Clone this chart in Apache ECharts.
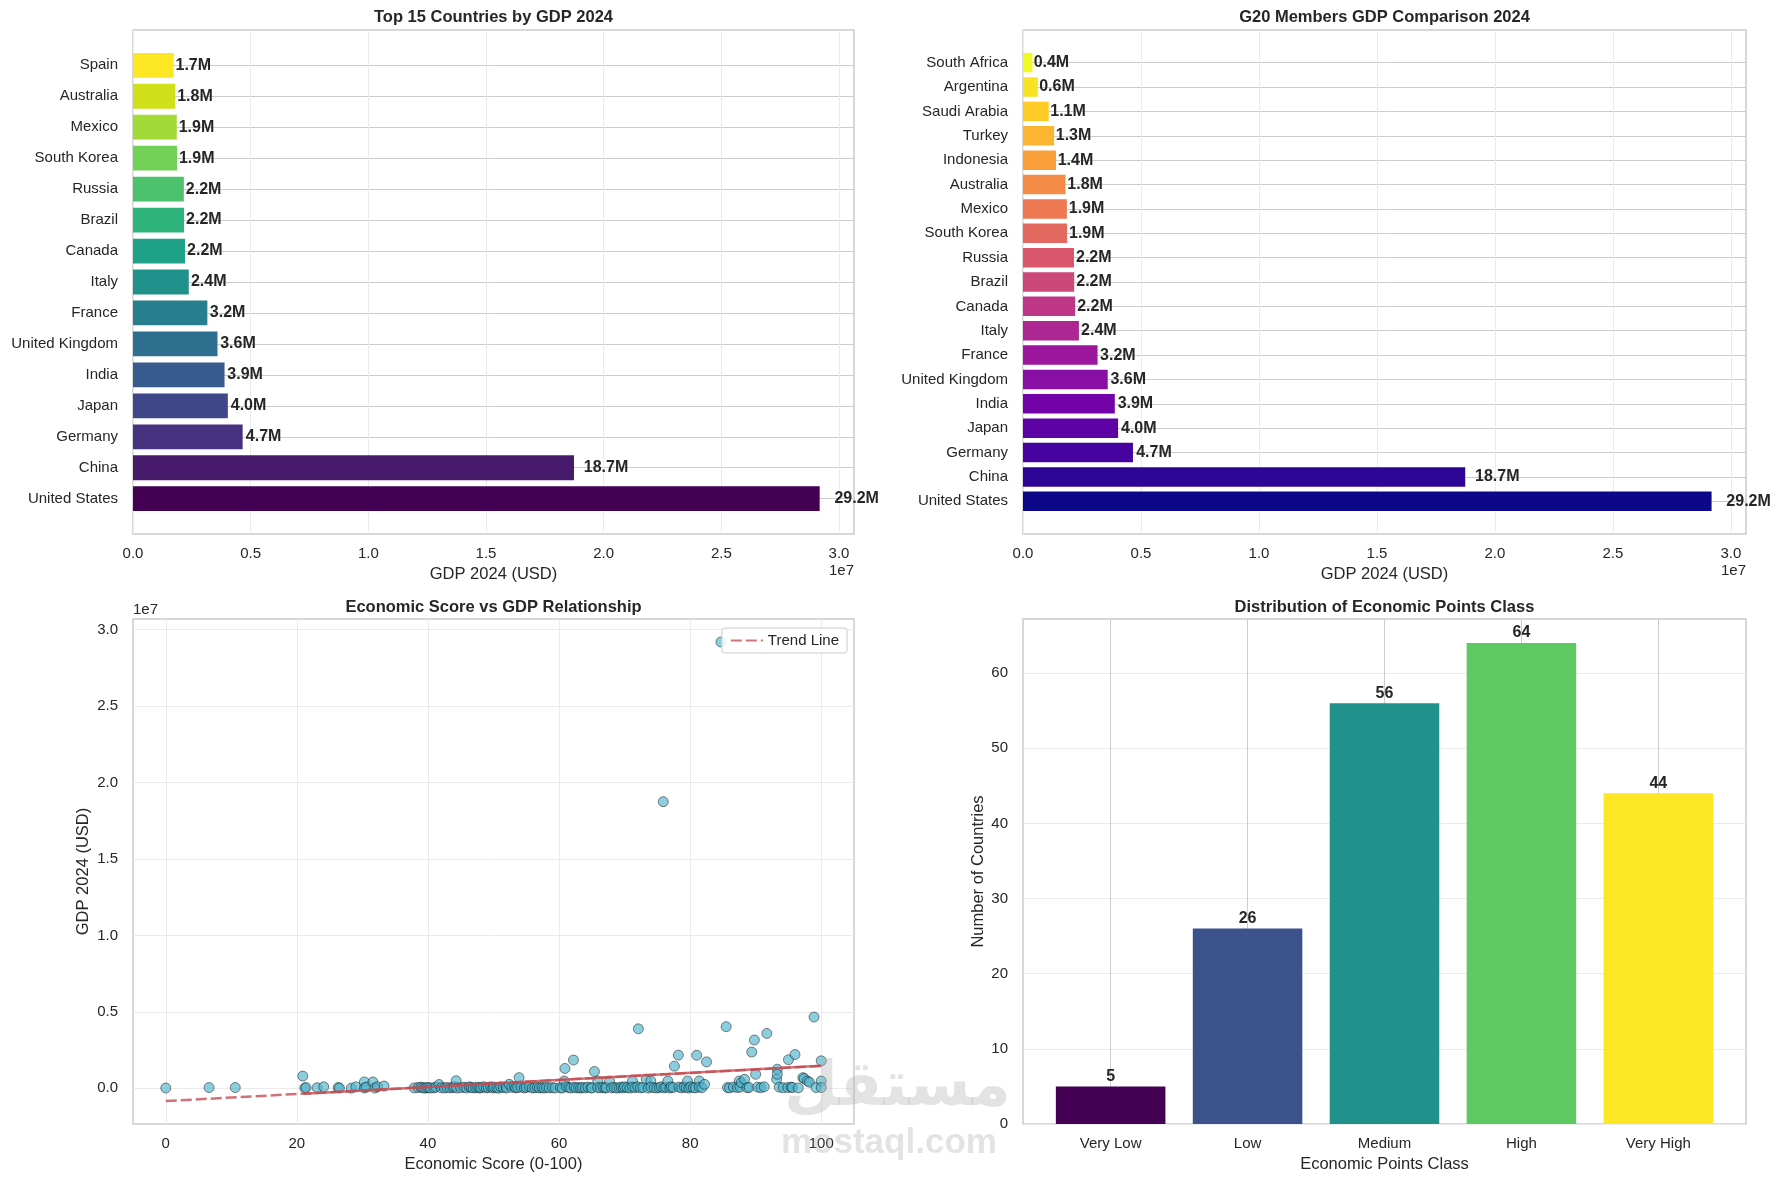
<!DOCTYPE html>
<html>
<head>
<meta charset="utf-8">
<script src="https://cdn.jsdelivr.net/npm/echarts@6/dist/echarts.min.js"></script>
<style>
  html, body { margin: 0; padding: 0; background: #fff; }
  #main { width: 1781px; height: 1183px; }
</style>
</head>
<body>
<div id="main"></div>
<script>
// ---- data (bottom -> top for the horizontal bars) ----
var topCountries = ['United States', 'China', 'Germany', 'Japan', 'India', 'United Kingdom', 'France', 'Italy',
    'Canada', 'Brazil', 'Russia', 'South Korea', 'Mexico', 'Australia', 'Spain'];
var topGdp = [29.18, 18.74, 4.66, 4.03, 3.89, 3.59, 3.16, 2.37, 2.21, 2.17, 2.16, 1.87, 1.86, 1.80, 1.73];

var g20Countries = ['United States', 'China', 'Germany', 'Japan', 'India', 'United Kingdom', 'France', 'Italy',
    'Canada', 'Brazil', 'Russia', 'South Korea', 'Mexico', 'Australia', 'Indonesia', 'Turkey', 'Saudi Arabia',
    'Argentina', 'South Africa'];
var g20Gdp = [29.18, 18.74, 4.66, 4.03, 3.89, 3.59, 3.16, 2.37, 2.21, 2.17, 2.16, 1.87, 1.86, 1.80, 1.40, 1.32,
    1.09, 0.63, 0.40];

var pointClasses = ['Very Low', 'Low', 'Medium', 'High', 'Very High'];
var classCounts = [5, 26, 56, 64, 44];

// [economic score, GDP in millions (M)]
var scorePoints = [
    [0, 0.02], [6.6, 0.05], [10.6, 0.05],
    [20.9, 0.8], [21.2, 0.02], [21.4, 0.05], [23.1, 0.04], [24.1, 0.1], [26.3, 0.05], [26.5, 0.02],
    [28.3, 0.01], [29.0, 0.1], [30.3, 0.42], [30.3, 0.03], [30.6, 0.08], [31.6, 0.42], [31.9, 0.02],
    [32.3, 0.1], [33.3, 0.15], [37.9, 0.03], [38.5, 0.05], [38.9, 0.08], [39.2, 0.04], [39.5, 0.01], [39.8, 0.06],
    [40.1, 0.05], [40.4, 0.02], [40.9, 0.03], [41.2, 0.08], [41.7, 0.25], [42.0, 0.04], [42.5, 0.02],
    [42.9, 0.06], [43.4, 0.03], [43.8, 0.05], [44.0, 0.1], [44.3, 0.5], [44.4, 0.02], [45.0, 0.04],
    [45.5, 0.08], [45.9, 0.02], [46.3, 0.1], [46.6, 0.06], [46.9, 0.03], [47.3, 0.04], [47.6, 0.07],
    [47.9, 0.02], [48.1, 0.05], [48.5, 0.1], [48.9, 0.03], [49.2, 0.06], [49.6, 0.1], [49.9, 0.02],
    [50.1, 0.08], [50.5, 0.04], [50.8, 0.01], [51.1, 0.1], [51.5, 0.05], [51.9, 0.09], [52.0, 0.02],
    [52.4, 0.26], [52.8, 0.06], [53.2, 0.1], [53.4, 0.03], [53.7, 0.05], [53.9, 0.7], [54.2, 0.08],
    [54.7, 0.03], [55.0, 0.06], [55.5, 0.1], [55.9, 0.02], [56.3, 0.04], [56.7, 0.07], [57.0, 0.03],
    [57.4, 0.05], [57.7, 0.02], [58.1, 0.06], [58.5, 0.03], [59.0, 0.05], [59.4, 0.02],
    [60.2, 0.04], [60.5, 0.02], [60.8, 0.48], [60.9, 1.3], [61.1, 0.1], [61.5, 0.05], [61.8, 0.02],
    [62.2, 1.85], [62.3, 0.08], [62.6, 0.03], [63.0, 0.05], [63.3, 0.02], [63.6, 0.06], [64.0, 0.03],
    [64.4, 0.08], [64.9, 0.04], [65.0, 0.02], [65.4, 1.1], [65.9, 0.48], [65.9, 0.05], [66.3, 0.03],
    [66.7, 0.07], [67.0, 0.02], [67.2, 0.05], [67.7, 0.48], [68.0, 0.03], [68.4, 0.06], [68.8, 0.02],
    [69.2, 0.04], [69.5, 0.08], [69.8, 0.03], [70.0, 0.1], [70.4, 0.05], [70.8, 0.02], [71.2, 0.48],
    [71.2, 0.08], [71.6, 0.04], [72.0, 0.1], [72.1, 3.89], [72.4, 0.03], [72.8, 0.06], [73.3, 0.6],
    [73.6, 0.02], [74.0, 0.48], [74.0, 0.08], [74.5, 0.04], [74.9, 0.02], [75.3, 0.05], [75.6, 0.1],
    [75.9, 18.74], [76.0, 0.03], [76.3, 0.08], [76.6, 0.48], [76.9, 0.02], [77.1, 0.1], [77.4, 0.05],
    [77.6, 1.45], [78.2, 2.17], [78.3, 0.08], [78.7, 0.03], [79.1, 0.1], [79.4, 0.05], [79.6, 0.48], [79.8, 0.02],
    [80.1, 0.1], [80.5, 0.05], [80.8, 0.03], [81.0, 2.16], [81.4, 0.48], [81.4, 0.08], [81.8, 0.04],
    [82.2, 0.26], [82.5, 1.73], [84.7, 29.18], [85.5, 4.03], [85.7, 0.05], [86.0, 0.03], [86.6, 0.08],
    [87.2, 0.05], [87.5, 0.48], [87.6, 0.08], [87.8, 0.37], [88.3, 0.59], [88.7, 0.04], [89.0, 0.06],
    [89.4, 2.37], [89.8, 3.16], [90.0, 0.92], [90.3, 0.08], [90.8, 0.04], [91.3, 0.1], [91.7, 3.59],
    [93.2, 0.59], [93.3, 1.25], [93.3, 0.92], [93.6, 0.08], [94.2, 0.04], [94.9, 0.05], [95.0, 1.87],
    [95.4, 0.08], [95.6, 0.05], [96.0, 2.21], [96.5, 0.03], [97.2, 0.7], [97.4, 0.64], [97.9, 0.48],
    [98.2, 0.4], [98.9, 4.66], [99.2, 0.05], [100, 1.8], [100, 0.48], [100, 0.05]
];

// fitted trend line (GDP M = intercept + slope * score)
var trendIntercept = -0.83;
var trendSlope = 0.023;
var trendFrom = 0, trendTo = 100, trendDenseFrom = 21;

// ---- styles ----
var viridis15 = ['#440154', '#481a6c', '#46327e', '#3f4788', '#375b8d', '#2e6e8e', '#277f8e', '#21918c',
    '#1fa187', '#2eb37c', '#4cc26c', '#73d056', '#a2da37', '#d0e11c', '#fde725'];
var plasma19 = ['#0d0887', '#2c0594', '#46039f', '#5c02a4', '#7201a8', '#870fa3', '#9c179e', '#ad2792',
    '#bd3786', '#cb4778', '#d8576b', '#e3685f', '#ed7953', '#f48c47', '#fb9f3a', '#fcb530', '#fdca26',
    '#f7e224', '#f0f921'];
var viridis5 = ['#440154', '#3b528b', '#21918c', '#5ec962', '#fde725'];

var font = "'Liberation Sans', Arial, sans-serif";
var ink = '#262626';
var lightGrid = '#ebebeb', catGrid = '#cccccc', spine = '#cccccc';

var frames = {
    tl: {left: 133, top: 30, width: 721, height: 504},
    tr: {left: 1023, top: 30, width: 723, height: 504},
    bl: {left: 133, top: 619, width: 721, height: 505},
    br: {left: 1023, top: 619, width: 723, height: 505}
};

function range(a, b, step) { var r = []; for (var v = a; v <= b + 1e-9; v += step) r.push(v); return r; }
function catPad(n) { return 0.4 + 0.05 * (n - 0.2); }

function frameGrid(f) {
    return {left: f.left, top: f.top, width: f.width, height: f.height, show: true,
        borderColor: spine, borderWidth: 1.5, backgroundColor: 'transparent', outerBoundsMode: 'none'};
}
// inner grid that holds the bands of a category axis, with matplotlib's margins
function bandGridY(f, n) {
    var pad = catPad(n), px = f.height / (n - 1 + 2 * pad);
    return {left: f.left, width: f.width, top: f.top + (pad - 0.5) * px, height: n * px, show: false, outerBoundsMode: 'none'};
}
function bandGridX(f, n) {
    var pad = catPad(n), px = f.width / (n - 1 + 2 * pad);
    return {top: f.top, height: f.height, left: f.left + (pad - 0.5) * px, width: n * px, show: false, outerBoundsMode: 'none'};
}

var tickText = {color: ink, fontSize: 15, fontFamily: font};
var nameText = {color: ink, fontSize: 16.5, fontFamily: font};

function gdpX(gridIndex, xmax, showIt) {
    if (!showIt) return {gridIndex: gridIndex, type: 'value', min: 0, max: xmax, show: false};
    var ticks = range(0, 30, 5);
    return {
        gridIndex: gridIndex, type: 'value', min: 0, max: xmax,
        axisLine: {show: false}, axisTick: {show: false, customValues: ticks},
        axisLabel: Object.assign({customValues: ticks, margin: 12, formatter: function (v) { return (v / 10).toFixed(1); }}, tickText),
        splitLine: {show: true, lineStyle: {color: lightGrid, width: 1}},
        name: 'GDP 2024 (USD)', nameLocation: 'middle', nameGap: 32, nameTextStyle: nameText
    };
}
function countryY(gridIndex, names) {
    var pad = catPad(names.length), ticks = range(0, names.length - 1, 1);
    return {
        gridIndex: gridIndex, type: 'value', min: -pad, max: names.length - 1 + pad,
        axisLine: {show: false}, axisTick: {show: false, customValues: ticks},
        axisLabel: Object.assign({customValues: ticks, margin: 15, formatter: function (v) { return names[Math.round(v)]; }}, tickText),
        splitLine: {show: true, lineStyle: {color: catGrid, width: 1}}
    };
}
function hbarSeries(idx, values, colors, f, xmax) {
    var pxPerUnit = f.width / xmax;
    return {
        type: 'bar', xAxisIndex: idx, yAxisIndex: idx, barWidth: '80%',
        data: values.map(function (v, i) {
            return {value: v, itemStyle: {color: colors[i]}, label: {distance: 1 + v * 0.02 * pxPerUnit}};
        }),
        label: {show: true, position: 'right', color: ink, fontSize: 16, fontWeight: 'bold', fontFamily: font,
            formatter: function (p) { return p.value.toFixed(1) + 'M'; }},
        emphasis: {disabled: true}
    };
}

var xMaxTop = Math.max.apply(null, topGdp) * 1.05;
var xMaxG20 = Math.max.apply(null, g20Gdp) * 1.05;

var trendLo = trendIntercept + trendSlope * trendFrom;
var gdpMax = Math.max.apply(null, scorePoints.map(function (p) { return p[1]; }));
var sMargin = (gdpMax - trendLo) * 0.05;
var countMax = Math.max.apply(null, classCounts) * 1.05;
var brPad = catPad(pointClasses.length);

var chart = echarts.init(document.getElementById('main'));
chart.setOption({
    animation: false,
    backgroundColor: '#fff',
    textStyle: {fontFamily: font},
    title: [
        {text: 'Top 15 Countries by GDP 2024', left: frames.tl.left + frames.tl.width / 2, top: 9, textAlign: 'center'},
        {text: 'G20 Members GDP Comparison 2024', left: frames.tr.left + frames.tr.width / 2, top: 9, textAlign: 'center'},
        {text: 'Economic Score vs GDP Relationship', left: frames.bl.left + frames.bl.width / 2, top: 599, textAlign: 'center'},
        {text: 'Distribution of Economic Points Class', left: frames.br.left + frames.br.width / 2, top: 599, textAlign: 'center'}
    ].map(function (t) {
        t.padding = 0;
        t.textStyle = {color: ink, fontSize: 16.5, fontWeight: 'bold', fontFamily: font};
        return t;
    }),
    legend: {
        data: [{name: 'Trend Line', itemStyle: {opacity: 0}}], right: 1781 - 847, top: 628, padding: [5, 8],
        itemWidth: 32, itemHeight: 12, itemGap: 8,
        backgroundColor: 'rgba(255,255,255,0.85)', borderColor: '#cccccc', borderWidth: 1, borderRadius: 3,
        textStyle: {color: ink, fontSize: 15, fontFamily: font}
    },
    grid: [
        frameGrid(frames.tl), bandGridY(frames.tl, topCountries.length),
        frameGrid(frames.tr), bandGridY(frames.tr, g20Countries.length),
        frameGrid(frames.bl),
        frameGrid(frames.br), bandGridX(frames.br, pointClasses.length)
    ],
    xAxis: [
        gdpX(0, xMaxTop, true), gdpX(1, xMaxTop, false),
        gdpX(2, xMaxG20, true), gdpX(3, xMaxG20, false),
        {
            gridIndex: 4, type: 'value', min: -5, max: 105,
            axisLine: {show: false}, axisTick: {show: false, customValues: range(0, 100, 20)},
            axisLabel: Object.assign({customValues: range(0, 100, 20), margin: 12}, tickText),
            splitLine: {show: true, lineStyle: {color: lightGrid}},
            name: 'Economic Score (0-100)', nameLocation: 'middle', nameGap: 32, nameTextStyle: nameText
        },
        {
            gridIndex: 5, type: 'value', min: -brPad, max: pointClasses.length - 1 + brPad,
            axisLine: {show: false}, axisTick: {show: false, customValues: range(0, 4, 1)},
            axisLabel: Object.assign({customValues: range(0, 4, 1), margin: 12,
                formatter: function (v) { return pointClasses[Math.round(v)]; }}, tickText),
            splitLine: {show: true, lineStyle: {color: catGrid}},
            name: 'Economic Points Class', nameLocation: 'middle', nameGap: 32, nameTextStyle: nameText
        },
        {gridIndex: 6, type: 'category', data: pointClasses, show: false}
    ],
    yAxis: [
        countryY(0, topCountries), {gridIndex: 1, type: 'category', data: topCountries, show: false},
        countryY(2, g20Countries), {gridIndex: 3, type: 'category', data: g20Countries, show: false},
        {
            gridIndex: 4, type: 'value', min: trendLo - sMargin, max: gdpMax + sMargin,
            axisLine: {show: false}, axisTick: {show: false, customValues: range(0, 30, 5)},
            axisLabel: Object.assign({customValues: range(0, 30, 5), margin: 15,
                formatter: function (v) { return (v / 10).toFixed(1); }}, tickText),
            splitLine: {show: true, lineStyle: {color: lightGrid}},
            name: 'GDP 2024 (USD)', nameLocation: 'middle', nameGap: 41, nameTextStyle: nameText
        },
        {
            gridIndex: 5, type: 'value', min: 0, max: countMax,
            axisLine: {show: false}, axisTick: {show: false, customValues: range(0, 60, 10)},
            axisLabel: Object.assign({customValues: range(0, 60, 10), margin: 15}, tickText),
            splitLine: {show: true, lineStyle: {color: lightGrid}},
            name: 'Number of Countries', nameLocation: 'middle', nameGap: 35, nameTextStyle: nameText
        },
        {gridIndex: 6, type: 'value', min: 0, max: countMax, show: false}
    ],
    series: [
        hbarSeries(1, topGdp, viridis15, frames.tl, xMaxTop),
        hbarSeries(3, g20Gdp, plasma19, frames.tr, xMaxG20),
        {
            type: 'scatter', xAxisIndex: 4, yAxisIndex: 4, data: scorePoints, symbolSize: 10,
            itemStyle: {color: '#4fb3cc', opacity: 0.65, borderColor: '#000', borderWidth: 0.7},
            emphasis: {disabled: true}
        },
        {
            name: 'Trend Line', type: 'line', xAxisIndex: 4, yAxisIndex: 4, symbol: 'none', z: 3,
            data: [[trendFrom, trendIntercept + trendSlope * trendFrom], [trendTo, trendIntercept + trendSlope * trendTo]],
            lineStyle: {color: '#c44e52', opacity: 0.8, width: 2.5, type: [11, 4]},
            itemStyle: {color: '#c44e52'}
        },
        {
            name: 'trend-dense', type: 'line', xAxisIndex: 4, yAxisIndex: 4, symbol: 'none', z: 3, silent: true,
            data: [[trendDenseFrom, trendIntercept + trendSlope * trendDenseFrom], [trendTo, trendIntercept + trendSlope * trendTo]],
            lineStyle: {color: '#c44e52', opacity: 0.8, width: 2.5}
        },
        {
            type: 'bar', xAxisIndex: 6, yAxisIndex: 6, barWidth: '80%',
            data: classCounts.map(function (v, i) { return {value: v, itemStyle: {color: viridis5[i]}}; }),
            label: {show: true, position: 'top', distance: 2, color: ink, fontSize: 16, fontWeight: 'bold', fontFamily: font},
            emphasis: {disabled: true}
        }
    ],
    graphic: [
        {type: 'text', right: 1781 - 854, top: 563, style: {text: '1e7', font: '15px ' + font, fill: ink}},
        {type: 'text', right: 1781 - 1746, top: 563, style: {text: '1e7', font: '15px ' + font, fill: ink}},
        {type: 'text', left: 133, top: 602, style: {text: '1e7', font: '15px ' + font, fill: ink}},
        {type: 'text', left: 784, top: 1058, z: 100, style: {text: 'مستقل', font: 'bold 62px "DejaVu Sans"', fill: 'rgba(175,175,175,0.35)'}},
        {type: 'text', left: 781, top: 1126, z: 100, style: {text: 'mostaql.com', font: 'bold 35px ' + font, fill: 'rgba(175,175,175,0.35)'}}
    ]
});
</script>
</body>
</html>
